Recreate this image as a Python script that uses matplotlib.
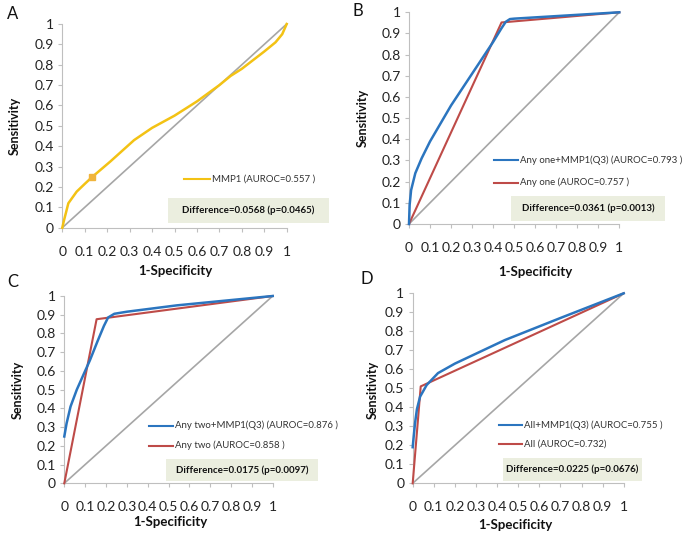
import matplotlib
matplotlib.use("Agg")
import matplotlib.pyplot as plt
import numpy as np

plt.rcParams['font.family'] = ['Lato', 'DejaVu Sans']

# ---- data ----
diag = [0, 1]

a_x = [0, 0.008, 0.027, 0.064, 0.1, 0.131, 0.213, 0.32, 0.4, 0.5, 0.6, 0.7, 0.75, 0.8, 0.9, 0.95, 0.98, 1.0]
a_y = [0, 0.038, 0.12, 0.177, 0.215, 0.247, 0.324, 0.43, 0.49, 0.55, 0.62, 0.70, 0.745, 0.78, 0.865, 0.91, 0.95, 1.0]
a_mark = (0.131, 0.247)

b_blue_x = [0, 0.003, 0.01, 0.03, 0.06, 0.1, 0.2, 0.3, 0.4, 0.44, 0.46, 0.48, 0.5, 1.0]
b_blue_y = [0, 0.09, 0.16, 0.24, 0.31, 0.39, 0.56, 0.71, 0.86, 0.925, 0.955, 0.968, 0.97, 1.0]
b_red_x = [0, 0.44, 1.0]
b_red_y = [0, 0.952, 1.0]

c_blue_x = [0, 0.011, 0.03, 0.06, 0.1, 0.123, 0.16, 0.19, 0.21, 0.24, 0.3, 0.54, 1.0]
c_blue_y = [0.25, 0.32, 0.41, 0.5, 0.6, 0.657, 0.76, 0.84, 0.885, 0.905, 0.916, 0.95, 1.0]
c_red_x = [0, 0.155, 1.0]
c_red_y = [0, 0.876, 1.0]

d_blue_x = [0, 0.005, 0.011, 0.02, 0.035, 0.066, 0.12, 0.2, 0.437, 0.7, 1.0]
d_blue_y = [0.19, 0.25, 0.316, 0.39, 0.456, 0.517, 0.58, 0.63, 0.754, 0.87, 1.0]
d_red_x = [0, 0.038, 1.0]
d_red_y = [0, 0.51, 1.0]

ticks = np.round(np.arange(0, 1.01, 0.1), 1)
tick_labels = ['0' if t == 0 else ('1' if t == 1 else '%.1f' % t) for t in ticks]

YELLOW = '#F3C214'
BLUE = '#2B75BF'
RED = '#BE4B48'
GREY = '#A6A6A6'
BOX = '#EBEEDF'

W, H = 685, 535
fig = plt.figure(figsize=(W / 100, H / 100), dpi=100)


def px(x, y):
    return x / W, 1 - y / H


def make_axes(x0, x1, y_top, y_bot):
    l, b = px(x0, y_bot)
    r, t = px(x1, y_top)
    ax = fig.add_axes([l, b, r - l, t - b])
    ax.set_xlim(0, 1)
    ax.set_ylim(0, 1)
    ax.set_xticks(ticks)
    ax.set_yticks(ticks)
    ax.set_xticklabels(tick_labels)
    ax.set_yticklabels(tick_labels)
    for s in ['top', 'right']:
        ax.spines[s].set_visible(False)
    for s in ['left', 'bottom']:
        ax.spines[s].set_color('#BFBFBF')
        ax.spines[s].set_linewidth(0.8)
    ax.tick_params(axis='both', colors='#BFBFBF', labelcolor='#222222',
                   length=3, width=0.8, labelsize=10)
    ax.tick_params(axis='x', pad=10)
    ax.tick_params(axis='y', pad=3)
    ax.plot(diag, diag, color=GREY, lw=1.2, clip_on=False, zorder=2)
    return ax


def legend_line(ax, y, color, text, x0, x1):
    ax.plot([x0, x1], [y, y], color=color, lw=1.5, transform=ax.transAxes, clip_on=False)
    ax.text(x1 + 0.01, y, text, transform=ax.transAxes, fontsize=6.9,
            color='#333333', va='center', ha='left')


def diff_box(ax, x0, x1, y0, y1, text):
    ax.add_patch(plt.Rectangle((x0, y0), x1 - x0, y1 - y0, transform=ax.transAxes,
                               facecolor=BOX, edgecolor='none', clip_on=False, zorder=1))
    ax.text((x0 + x1) / 2, (y0 + y1) / 2, text, transform=ax.transAxes, fontsize=7,
            fontweight='bold', color='#111111', ha='center', va='center', zorder=3)


# ---- A ----
axA = make_axes(62.3, 286.7, 24, 227.7)
axA.plot(a_x, a_y, color=YELLOW, lw=1.8, clip_on=False, zorder=3)
axA.plot([a_mark[0]], [a_mark[1]], 's', color='#F0B43C', ms=4, zorder=4)
legend_line(axA, 0.239, YELLOW, 'MMP1 (AUROC=0.557 )', 0.542, 0.658)
diff_box(axA, 0.471, 1.189, 0.023, 0.146, 'Difference=0.0568 (p=0.0465)')

# ---- B ----
axB = make_axes(409, 619.3, 12.3, 224)
axB.plot(b_red_x, b_red_y, color=RED, lw=1.5, clip_on=False, zorder=3)
axB.plot(b_blue_x, b_blue_y, color=BLUE, lw=1.8, clip_on=False, zorder=4)
legend_line(axB, 0.302, BLUE, 'Any one+MMP1(Q3) (AUROC=0.793 )', 0.404, 0.518)
legend_line(axB, 0.195, RED, 'Any one (AUROC=0.757 )', 0.404, 0.518)
diff_box(axB, 0.485, 1.217, 0.014, 0.132, 'Difference=0.0361 (p=0.0013)')

# ---- C ----
axC = make_axes(64.3, 272.7, 296, 483.3)
axC.plot(c_red_x, c_red_y, color=RED, lw=1.5, clip_on=False, zorder=3)
axC.plot(c_blue_x, c_blue_y, color=BLUE, lw=1.8, clip_on=False, zorder=4)
legend_line(axC, 0.308, BLUE, 'Any two+MMP1(Q3) (AUROC=0.876 )', 0.406, 0.522)
legend_line(axC, 0.201, RED, 'Any two (AUROC=0.858 )', 0.406, 0.522)
diff_box(axC, 0.488, 1.217, 0.014, 0.130, 'Difference=0.0175 (p=0.0097)')

# ---- D ----
axD = make_axes(412.7, 623.7, 293.3, 483.3)
axD.plot(d_red_x, d_red_y, color=RED, lw=1.5, clip_on=False, zorder=3)
axD.plot(d_blue_x, d_blue_y, color=BLUE, lw=1.8, clip_on=False, zorder=4)
legend_line(axD, 0.308, BLUE, 'All+MMP1(Q3) (AUROC=0.755 )', 0.409, 0.518)
legend_line(axD, 0.205, RED, 'All (AUROC=0.732)', 0.409, 0.518)
diff_box(axD, 0.428, 1.087, 0.012, 0.133, 'Difference=0.0225 (p=0.0676)')

# ---- labels ----
for letter, (x, y) in zip('ABCD', [(13, 14), (358, 11), (13, 282), (367, 279)]):
    fig.text(*px(x, y), letter, fontsize=12, ha='center', va='center', color='#111111')

for (x, y) in [(15, 126), (363, 118), (18, 390), (373, 390)]:
    fig.text(*px(x, y), 'Sensitivity', rotation=90, fontsize=9, fontweight='bold',
             ha='center', va='center', color='#111111')

for (x, y) in [(175, 271), (535, 272), (170, 522), (515, 525)]:
    fig.text(*px(x, y), '1-Specificity', fontsize=9.5, fontweight='bold',
             ha='center', va='center', color='#111111')

fig.savefig('out.png', dpi=100, facecolor='white')
